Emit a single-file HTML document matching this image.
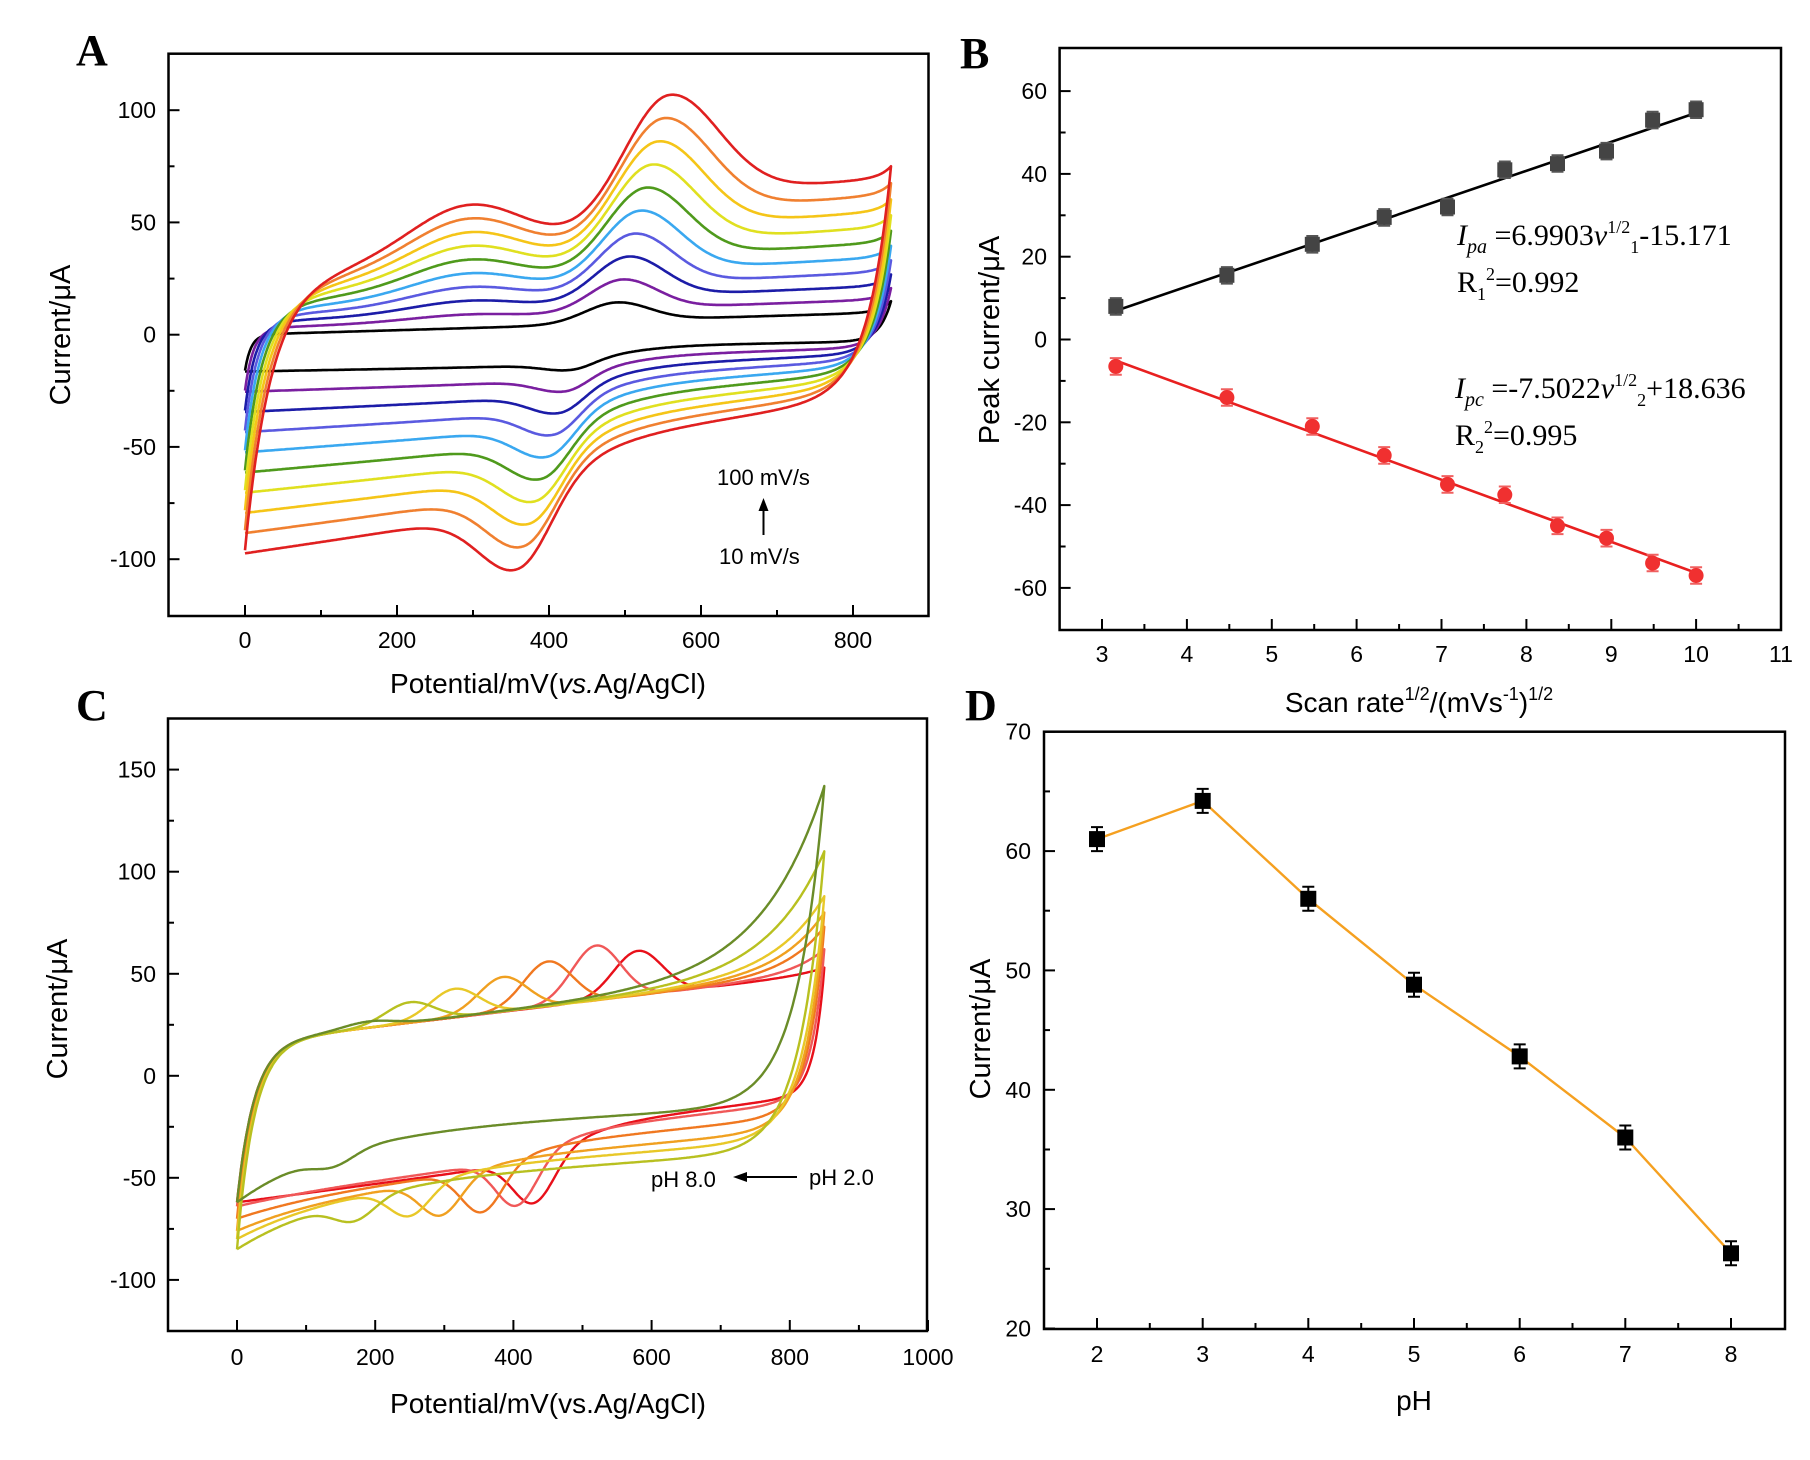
<!DOCTYPE html>
<html><head><meta charset="utf-8">
<style>html,body{margin:0;padding:0;background:#fff}svg{display:block}</style>
</head><body>
<svg id="s" xmlns="http://www.w3.org/2000/svg" width="1810" height="1460" viewBox="0 0 1810 1460" font-family="Liberation Sans, Arial, sans-serif">
<rect width="1810" height="1460" fill="#fff"/>
<g id="g"></g>
<text x="76" y="65" font-family="Liberation Serif, serif" font-size="44" font-weight="bold">A</text>
<text x="960" y="68" font-family="Liberation Serif, serif" font-size="44" font-weight="bold">B</text>
<text x="76" y="720" font-family="Liberation Serif, serif" font-size="44" font-weight="bold">C</text>
<text x="965" y="720" font-family="Liberation Serif, serif" font-size="44" font-weight="bold">D</text>
<text x="61" y="335" font-size="29" text-anchor="middle" dominant-baseline="central" transform="rotate(-90 61 335)">Current/μA</text>
<text x="548" y="693" font-size="28" text-anchor="middle">Potential/mV(<tspan font-style="italic">vs.</tspan>Ag/AgCl)</text>
<text x="990" y="340" font-size="29" text-anchor="middle" dominant-baseline="central" transform="rotate(-90 990 340)">Peak current/μA</text>
<text x="1419" y="712" font-size="28" text-anchor="middle">Scan rate<tspan font-size="18" dy="-12">1/2</tspan><tspan dy="12">/(mVs</tspan><tspan font-size="18" dy="-12">-1</tspan><tspan dy="12">)</tspan><tspan font-size="18" dy="-12">1/2</tspan></text>
<text x="58" y="1009" font-size="29" text-anchor="middle" dominant-baseline="central" transform="rotate(-90 58 1009)">Current/μA</text>
<text x="548" y="1413" font-size="28" text-anchor="middle">Potential/mV(vs.Ag/AgCl)</text>
<text x="981" y="1029" font-size="29" text-anchor="middle" dominant-baseline="central" transform="rotate(-90 981 1029)">Current/μA</text>
<text x="1414" y="1410" font-size="28" text-anchor="middle">pH</text>
<text x="717" y="485" font-size="22">100 mV/s</text>
<line x1="763.5" y1="535" x2="763.5" y2="508" stroke="#000" stroke-width="2"/>
<polygon points="763.5,498 758.5,511 768.5,511" fill="#000"/>
<text x="719" y="564" font-size="22">10 mV/s</text>
<text x="651" y="1187" font-size="22">pH 8.0</text>
<line x1="797" y1="1177" x2="745" y2="1177" stroke="#000" stroke-width="2"/>
<polygon points="733,1177 747,1172 747,1182" fill="#000"/>
<text x="809" y="1185" font-size="22">pH 2.0</text>
<text x="1457" y="245" font-family="Liberation Serif, serif" font-size="30"><tspan font-style="italic">I</tspan><tspan font-style="italic" font-size="20" dy="8">pa</tspan><tspan dy="-8"> =6.9903</tspan><tspan font-style="italic">v</tspan><tspan font-size="18" dy="-12">1/2</tspan><tspan font-size="18" dy="20">1</tspan><tspan dy="-8">-15.171</tspan></text>
<text x="1457" y="292" font-family="Liberation Serif, serif" font-size="30">R<tspan font-size="18" dy="8">1</tspan><tspan font-size="18" dy="-20">2</tspan><tspan dy="12">=0.992</tspan></text>
<text x="1455" y="398" font-family="Liberation Serif, serif" font-size="30"><tspan font-style="italic">I</tspan><tspan font-style="italic" font-size="20" dy="8">pc</tspan><tspan dy="-8"> =-7.5022</tspan><tspan font-style="italic">v</tspan><tspan font-size="18" dy="-12">1/2</tspan><tspan font-size="18" dy="20">2</tspan><tspan dy="-8">+18.636</tspan></text>
<text x="1455" y="445" font-family="Liberation Serif, serif" font-size="30">R<tspan font-size="18" dy="8">2</tspan><tspan font-size="18" dy="-20">2</tspan><tspan dy="12">=0.995</tspan></text>
</svg>
<script>
(function(){
var g=document.getElementById('g'),out='';
function gauss(x,c,w){return Math.exp(-((x-c)/w)*((x-c)/w));}
function sig(z){return 1/(1+Math.exp(-z));}
function L(a,b,t){return a+(b-a)*t;}
function f(v){return v.toFixed(1);}
function axes(o){
  var s='';
  s+='<rect x="'+o.x0+'" y="'+o.y0+'" width="'+(o.x1-o.x0)+'" height="'+(o.y1-o.y0)+'" fill="none" stroke="#000" stroke-width="2.5"/>';
  o.xmaj.forEach(function(v){var x=o.X(v);s+='<line x1="'+f(x)+'" y1="'+o.y1+'" x2="'+f(x)+'" y2="'+(o.y1-11)+'" stroke="#000" stroke-width="2"/>';
    s+='<text x="'+f(x)+'" y="'+o.ly+'" font-size="23" text-anchor="middle">'+v+'</text>';});
  o.xmin.forEach(function(v){var x=o.X(v);s+='<line x1="'+f(x)+'" y1="'+o.y1+'" x2="'+f(x)+'" y2="'+(o.y1-6)+'" stroke="#000" stroke-width="2"/>';});
  o.ymaj.forEach(function(v){var y=o.Y(v);s+='<line x1="'+o.x0+'" y1="'+f(y)+'" x2="'+(o.x0+11)+'" y2="'+f(y)+'" stroke="#000" stroke-width="2"/>';
    s+='<text x="'+o.lx+'" y="'+f(y+8)+'" font-size="23" text-anchor="end">'+v+'</text>';});
  o.ymin.forEach(function(v){var y=o.Y(v);s+='<line x1="'+o.x0+'" y1="'+f(y)+'" x2="'+(o.x0+6)+'" y2="'+f(y)+'" stroke="#000" stroke-width="2"/>';});
  return s;
}
// Panel A
var XA=function(v){return 245+v*0.76;},YA=function(v){return 334.7-v*2.245;};
var colA=['#000000','#7a1fa0','#1c1ca8','#5a5ae0','#3aa8f0','#4f9a1c','#e0e020','#f5c518','#f08030','#e02020'];
for(var i=0;i<10;i++){
  (function(i){
  var t=i/9;
  var y0=L(-16,-96,t),A=L(16,121,t),tau=L(8,35,t),s=L(0.01,0.03,t),H=L(0,24,t),P=L(9.5,65,t),Ep=L(490,560,t),w=L(60,90,t),tl=L(0.15,0.3,t);
  var F=function(x){var pk=x<Ep?P*gauss(x,Ep,w):P*(tl+(1-tl)*gauss(x,Ep,w));
    return y0+A*(1-Math.exp(-x/tau))+s*x+H*gauss(x,295,110)+pk+5*Math.exp((x-850)/15);};
  var r0=L(-16,-94,t),rs=L(0.006,0.05,t),S=L(8,25,t),Es=L(480,420,t),ws=L(40,50,t),Pc=L(4,34,t),Ec=L(430,360,t),wc=L(50,70,t),wr=L(40,60,t),rw=L(15,30,t);
  var base=function(x){var c=x<Ec?Pc*(0.1+0.9*gauss(x,Ec,wc)):Pc*gauss(x,Ec,wr);return r0+rs*x+S*sig((x-Es)/ws)-c;};
  var R2=F(850)-base(850);
  var G=function(x){return base(x)+R2*Math.exp((x-850)/rw);};
  var d='';
  for(var x=0;x<=850;x+=2){d+=(x?'L':'M')+f(XA(x))+','+f(YA(F(x)));}
  for(var x=850;x>=0;x-=2){d+='L'+f(XA(x))+','+f(YA(G(x)));}
  out+='<path d="'+d+'" fill="none" stroke="'+colA[i]+'" stroke-width="2.6" stroke-linejoin="round"/>';
  })(i);
}
out+=axes({x0:168.5,y0:53.7,x1:928.5,y1:616,X:XA,Y:YA,xmaj:[0,200,400,600,800],xmin:[100,300,500,700],ymaj:[-100,-50,0,50,100],ymin:[-75,-25,25,75],ly:648,lx:156});
// Panel B
var XB=function(v){return 1102+(v-3)*84.875;},YB=function(v){return 339.5-v*4.14;};
var xs=[10,20,30,40,50,60,70,80,90,100].map(Math.sqrt);
var ia=[8,15.5,23,29.5,32,41,42.5,45.5,53,55.5],ic=[-6.5,-14,-21,-28,-35,-37.5,-45,-48,-54,-57];
out+='<line x1="'+f(XB(3.16))+'" y1="'+f(YB(6.9903*3.16-15.171))+'" x2="'+f(XB(10))+'" y2="'+f(YB(6.9903*10-15.171))+'" stroke="#000" stroke-width="2.6"/>';
out+='<line x1="'+f(XB(3.16))+'" y1="'+f(YB(-7.5022*3.16+18.636))+'" x2="'+f(XB(10))+'" y2="'+f(YB(-7.5022*10+18.636))+'" stroke="#e82020" stroke-width="2.6"/>';
xs.forEach(function(x,k){
  var px=XB(x),pa=YB(ia[k]),pc=YB(ic[k]),e=2*4.14;
  out+='<path d="M'+f(px)+','+f(pa-e)+'V'+f(pa+e)+'M'+f(px-6)+','+f(pa-e)+'h12M'+f(px-6)+','+f(pa+e)+'h12" stroke="#555" stroke-width="2" fill="none"/>';
  out+='<rect x="'+f(px-7.5)+'" y="'+f(pa-7.5)+'" width="15" height="15" fill="#444"/>';
  out+='<path d="M'+f(px)+','+f(pc-e)+'V'+f(pc+e)+'M'+f(px-6)+','+f(pc-e)+'h12M'+f(px-6)+','+f(pc+e)+'h12" stroke="#f06060" stroke-width="2" fill="none"/>';
  out+='<circle cx="'+f(px)+'" cy="'+f(pc)+'" r="7.5" fill="#f03030"/>';
});
out+=axes({x0:1059.6,y0:48,x1:1781,y1:630,X:XB,Y:YB,xmaj:[3,4,5,6,7,8,9,10,11],xmin:[3.5,4.5,5.5,6.5,7.5,8.5,9.5,10.5],ymaj:[-60,-40,-20,0,20,40,60],ymin:[-50,-30,-10,10,30,50],ly:662,lx:1047});
// Panel C
var XC=function(v){return 237+v*0.691;},YC=function(v){return 1075.8-v*2.041;};
var colC=['#e8101a','#f05858','#f07820','#f0a020','#e8c828','#b8c020','#6a8c28'];
var EpC=[580,520,450,385,315,250,190],PaC=[22,27,22,17,14,10,3],EcC=[430,405,355,295,250,170,140],PcC=[23,24,22,18,15,10,6],FeC=[53,62,73,80,88,110,142],L0C=[-62,-64,-70,-76,-80,-85,-62];
for(var i=0;i<7;i++){
  (function(i){
  var t=i/6,L0=L0C[i],Ep=EpC[i],Pa=PaC[i],Ec=EcC[i],Pc=PcC[i];
  var R=FeC[i]-50,rw=L(40,90,t);
  var F=function(x){return L0+(16-L0)*(1-Math.exp(-x/25))+0.04*x+Pa*gauss(x,Ep,50)+R*Math.exp((x-850)/rw);};
  var A=L(0,35,t),s=L(0.045,0.015,t),S=L(15,0,t),Es=Ec+50;
  var base=function(x){return L0+A*(1-Math.exp(-x/150))+s*x+S*sig((x-Es)/40)-Pc*gauss(x,Ec,42);};
  var R2=F(850)-base(850),rw2=L(15,40,t);
  var G=function(x){return base(x)+R2*Math.exp((x-850)/rw2);};
  var d='';
  for(var x=0;x<=850;x+=2){d+=(x?'L':'M')+f(XC(x))+','+f(YC(F(x)));}
  for(var x=850;x>=0;x-=2){d+='L'+f(XC(x))+','+f(YC(G(x)));}
  out+='<path d="'+d+'" fill="none" stroke="'+colC[i]+'" stroke-width="2.4" stroke-linejoin="round"/>';
  })(i);
}
out+=axes({x0:168,y0:718.5,x1:927,y1:1331,X:XC,Y:YC,xmaj:[0,200,400,600,800,1000],xmin:[100,300,500,700,900],ymaj:[-100,-50,0,50,100,150],ymin:[-75,-25,25,75,125],ly:1365,lx:156});
// Panel D
var XD=function(v){return 1097+(v-2)*105.67;},YD=function(v){return 1328.5-(v-20)*11.936;};
var dv=[61,64.2,56,48.8,42.8,36,26.3],dd='';
dv.forEach(function(v,k){dd+=(k?'L':'M')+f(XD(k+2))+','+f(YD(v));});
out+='<path d="'+dd+'" fill="none" stroke="#f5a020" stroke-width="2.4"/>';
dv.forEach(function(v,k){var px=XD(k+2),py=YD(v),e=12;
  out+='<path d="M'+f(px)+','+f(py-e)+'V'+f(py+e)+'M'+f(px-6)+','+f(py-e)+'h12M'+f(px-6)+','+f(py+e)+'h12" stroke="#000" stroke-width="2" fill="none"/>';
  out+='<rect x="'+f(px-8)+'" y="'+f(py-8)+'" width="16" height="16" fill="#000"/>';});
out+=axes({x0:1044,y0:731.7,x1:1785,y1:1329,X:XD,Y:YD,xmaj:[2,3,4,5,6,7,8],xmin:[2.5,3.5,4.5,5.5,6.5,7.5],ymaj:[20,30,40,50,60,70],ymin:[25,35,45,55,65],ly:1362,lx:1031});
g.innerHTML=out;
})();
</script>
</body></html>
